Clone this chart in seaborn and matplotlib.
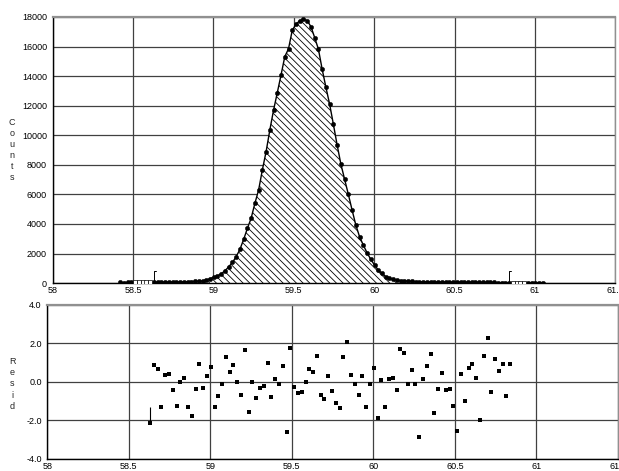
import numpy as np
import matplotlib
matplotlib.use("Agg")
import matplotlib.pyplot as plt
import seaborn as sns

# scan grid (regular 2-theta steps)
scan_start = 58.4207
scan_step = 0.02326

# observed counts, one per scan step
counts = [
    40, 35, 45, 40,                      # background (left)
    45, 40, 50, 45, 55,                  # excluded (hollow)
    50, 55, 60, 60, 65, 70, 75, 80, 85, 95, 105, 110, 120,
    135, 200, 300, 400, 480, 630, 830, 1100, 1400, 1780,
    2280, 2950, 3700, 4380, 5390, 6290, 7650, 8885, 10350, 11700,
    12880, 14075, 15314, 15850, 17100, 17506, 17750, 17845, 17750, 17344,
    16600, 15815, 14461, 13243, 12093, 10740, 9340, 8050, 7020, 6000,
    4940, 3925, 3135, 2570, 2050, 1600, 1220, 880, 655, 430,
    320, 250, 200, 170, 145, 125, 110, 100, 90, 85,
    80, 75, 70, 65, 65, 60, 60, 55, 55, 50,
    50, 50, 45, 45, 45, 40, 40, 40, 40, 35,
    35, 35, 35,
    35, 30, 35, 30,                      # excluded (hollow)
    30, 35, 30, 30, 35,                  # background (right)
]

# fit window (indices into the scan)
fit_lo, fit_hi = 9, 104
hollow_idx = [4, 5, 6, 7, 8, 105, 106, 107, 108]

# residuals inside the fit window
resid = [
    -2.15, 0.88, 0.69, -1.31, 0.36, 0.41, -0.40, -1.25, 0.00, 0.19,
    -1.31, -1.78, -0.36, 0.92, -0.29, 0.29, 0.80, -1.28, -0.73, -0.09,
    1.32, 0.52, 0.88, 0.02,
    -0.66, 1.68, -1.56, 0.02, -0.83, -0.29, -0.19, 0.97, -0.76, 0.16,
    -0.09, 0.81, -2.58, 1.75, -0.26, -0.59, -0.52, 0.02, 0.66, 0.52,
    1.35, -0.68, -0.90, 0.29, -0.47, -1.11,
    -1.33, 1.32, 2.09, 0.38, -0.09, -0.69, 0.33, -1.28, -0.09, 0.73,
    -1.85, 0.09, -1.28, 0.17, 0.22, -0.40, 1.71, 1.51, -0.10, 0.62,
    -0.09, -2.87, 0.14, 0.83, 1.44,
    -1.59, -0.36, 0.48, -0.40, -0.36, -1.25, -2.55, 0.41, -0.97, 0.73,
    0.92, 0.22, -1.97, 1.35, 2.30, -0.54, 1.21, 0.59, 0.92, -0.73, 0.92,
]
resid_err_top = -1.31

x_ticks = [58, 58.5, 59, 59.5, 60, 60.5, 61, 61.5]
x_labels = ["58", "58.5", "59", "59.5", "60", "60.5", "61", "61.5"]
count_ticks = list(range(0, 18001, 2000))
resid_ticks = [-4.0, -2.0, 0.0, 2.0, 4.0]

x = scan_start + scan_step * np.arange(len(counts))
y = np.array(counts, dtype=float)
x_fit = x[fit_lo:fit_hi + 1]
y_fit = y[fit_lo:fit_hi + 1]
solid_mask = np.ones(len(x), dtype=bool)
solid_mask[hollow_idx] = False

sns.set_style("white")
plt.rcParams['font.family'] = ['Liberation Sans', 'DejaVu Sans']
plt.rcParams['hatch.linewidth'] = 0.6
grid_col = "#404040"

fig = plt.figure(figsize=(6.19, 4.71), dpi=100)
ax1 = fig.add_axes([0.085, 0.399, 0.909, 0.565])
ax2 = fig.add_axes([0.0765, 0.0255, 0.9217, 0.327])

# --- counts panel
ax1.fill_between(x_fit, 0, y_fit, facecolor="white", edgecolor="black",
                 hatch="\\\\\\\\\\", linewidth=0, zorder=2)
sns.lineplot(x=x, y=y, ax=ax1, color="black", linewidth=1.0, zorder=3)
sns.scatterplot(x=x[solid_mask], y=y[solid_mask], ax=ax1, color="black",
                s=10, marker="o", edgecolor="black", linewidth=0.3, zorder=4)
sns.scatterplot(x=x[~solid_mask], y=y[~solid_mask], ax=ax1, color="white",
                s=8, marker="s", edgecolor="black", linewidth=0.5, zorder=4)
for xb in (x[fit_lo], x[fit_hi]):
    ax1.plot([xb, xb, xb + 0.012], [0, 850, 850], color="black",
             linewidth=0.7, zorder=5)

ax1.set_xlim(58, 61.5)
ax1.set_ylim(0, 18000)
ax1.set_xticks(x_ticks)
ax1.set_xticklabels(x_labels)
ax1.set_yticks(count_ticks)
ax1.set_yticklabels([str(v) for v in count_ticks])

# --- residual panel
sns.scatterplot(x=x_fit, y=resid, ax=ax2, color="black", s=10, marker="s",
                edgecolor="black", linewidth=0, zorder=4)
ax2.vlines(x_fit[0], resid[0], resid_err_top, color="black", linewidth=0.8,
           zorder=4)
ax2.set_xlim(58, 61.5)
ax2.set_ylim(-4, 4)
ax2.set_xticks(x_ticks)
ax2.set_xticklabels(x_labels)
ax2.set_yticks(resid_ticks)
ax2.set_yticklabels([f"{v:.1f}" for v in resid_ticks])

for ax in (ax1, ax2):
    ax.grid(True, color=grid_col, linewidth=0.9)
    ax.set_axisbelow(True)
    ax.set_xlabel("")
    ax.set_ylabel("")
    ax.tick_params(axis="y", labelsize=6.5, length=3, width=0.8,
                   direction="out", pad=1.0, colors="black")
    ax.tick_params(axis="x", labelsize=6.5, length=2, width=0.8,
                   direction="out", pad=0.3, colors="black")
    ax.spines["left"].set_color("black")
    ax.spines["bottom"].set_color("black")
    ax.spines["top"].set_color("#909090")
    ax.spines["right"].set_color("#909090")
    for s in ax.spines.values():
        s.set_linewidth(1.0)
    ax.spines["top"].set_linewidth(1.6)

fig.text(12 / 619, 1 - 150 / 471, "C\no\nu\nn\nt\ns", ha="center",
         va="center", fontsize=6.5, linespacing=1.3)
fig.text(12 / 619, 1 - 384 / 471, "R\ne\ns\ni\nd", ha="center",
         va="center", fontsize=6.5, linespacing=1.3)

fig.savefig("out.png", dpi=100)
